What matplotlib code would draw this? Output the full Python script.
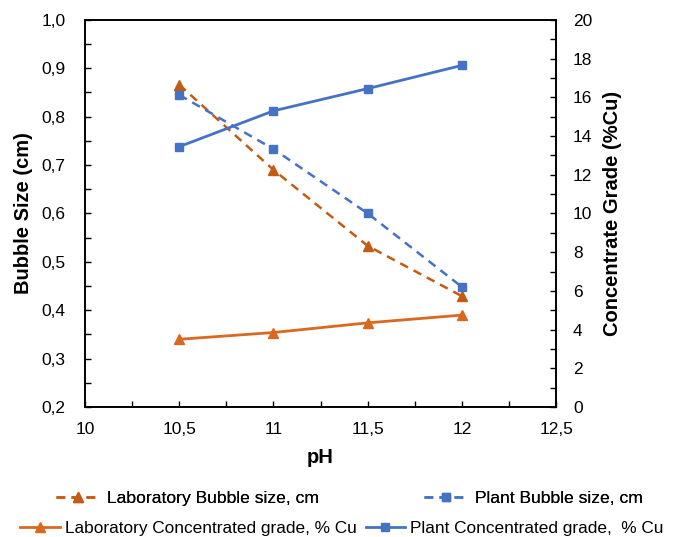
import matplotlib
matplotlib.use("Agg")
import matplotlib.pyplot as plt
from matplotlib.ticker import MultipleLocator, FuncFormatter

plt.rcParams["font.family"] = ["Liberation Sans", "DejaVu Sans"]

ph = [10.5, 11.0, 11.5, 12.0]
lab_bubble = [0.866, 0.690, 0.533, 0.429]
plant_bubble = [0.845, 0.733, 0.600, 0.448]
lab_grade = [3.5, 3.85, 4.35, 4.75]
plant_grade = [13.45, 15.3, 16.45, 17.65]

ORANGE_DARK = "#C55A11"
ORANGE = "#D9691E"
BLUE = "#4472C4"


def comma(v, _pos):
    return f"{v:g}".replace(".", ",")


fig = plt.figure(figsize=(6.8, 5.37), dpi=100)
ax = fig.add_axes([0.125, 0.242, 0.693, 0.721])
ax2 = ax.twinx()

l1, = ax.plot(ph, lab_bubble, color=ORANGE_DARK, lw=1.8, ls=(0, (3.5, 2.5)),
              marker="^", ms=6.5, label="Laboratory Bubble size, cm")
l2, = ax.plot(ph, plant_bubble, color=BLUE, lw=1.8, ls=(0, (3.5, 2.5)),
              marker="s", ms=6, label="Plant Bubble size, cm")
l3, = ax2.plot(ph, lab_grade, color=ORANGE, lw=2, marker="^", ms=6.5,
               label="Laboratory Concentrated grade, % Cu")
l4, = ax2.plot(ph, plant_grade, color=BLUE, lw=2, marker="s", ms=6,
               label="Plant Concentrated grade,  % Cu")

ax.set_xlim(10, 12.5)
ax.set_ylim(0.2, 1.0)
ax2.set_ylim(0, 20)

ax.xaxis.set_major_locator(MultipleLocator(0.5))
ax.xaxis.set_minor_locator(MultipleLocator(0.25))
ax.yaxis.set_major_locator(MultipleLocator(0.1))
ax.yaxis.set_minor_locator(MultipleLocator(0.05))
ax2.yaxis.set_major_locator(MultipleLocator(2))
ax2.yaxis.set_minor_locator(MultipleLocator(1))
ax.xaxis.set_major_formatter(FuncFormatter(comma))
ax.yaxis.set_major_formatter(FuncFormatter(lambda v, p: f"{v:.1f}".replace(".", ",")))

for a in (ax, ax2):
    a.tick_params(which="both", direction="in", length=4, width=1, labelsize=12.5,
                  colors="black")
    for sp in a.spines.values():
        sp.set_linewidth(1.2)
ax.tick_params(axis="x", pad=11)
ax.tick_params(axis="y", pad=14)
ax2.tick_params(axis="y", pad=12)

ax.set_xlabel("pH", fontsize=14.5, fontweight="bold", labelpad=8)
ax.set_ylabel("Bubble Size (cm)", fontsize=14.5, fontweight="bold", labelpad=6)
ax2.set_ylabel("Concentrate Grade (%Cu)", fontsize=14.5, fontweight="bold", labelpad=8)

leg1 = fig.legend(handles=[l1, l2], loc="center", ncol=2, frameon=False,
                  fontsize=12.6, handlelength=2.5, handletextpad=0.4,
                  bbox_to_anchor=(0.514, 0.071), columnspacing=6.0)
fig.add_artist(leg1)
fig.legend(handles=[l3, l4], loc="center", ncol=2, frameon=False,
           fontsize=12.4, handlelength=2.3, handletextpad=0.3,
           bbox_to_anchor=(0.503, 0.016), columnspacing=0.5)

fig.savefig("out.png", dpi=100)
